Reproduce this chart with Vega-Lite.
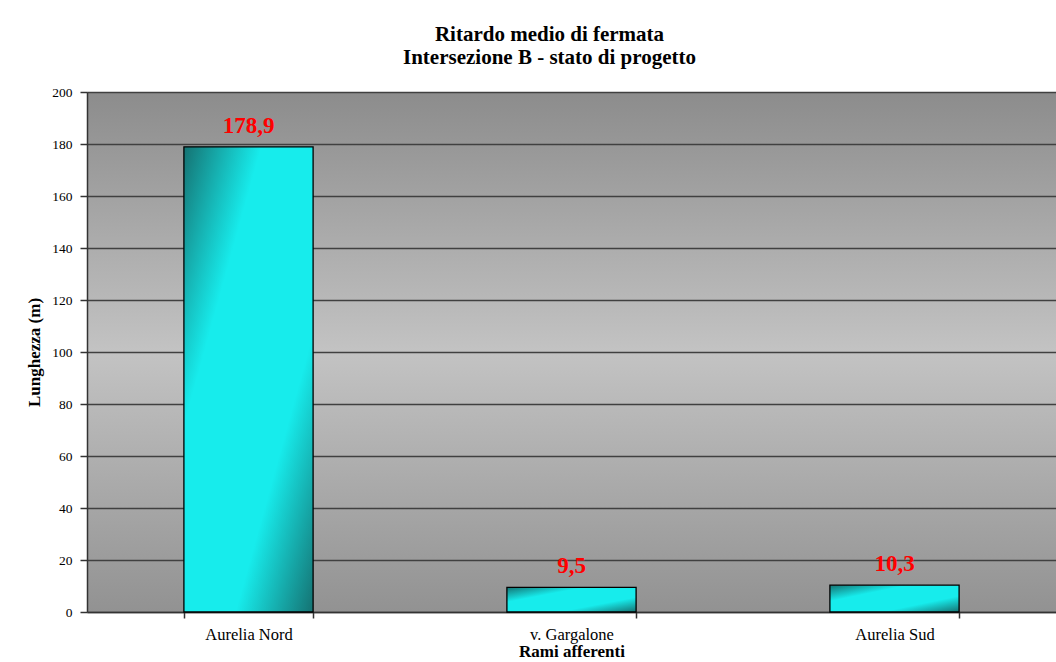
{
  "$schema": "https://vega.github.io/schema/vega-lite/v6.json",
  "autosize": "none",
  "width": 969,
  "height": 520,
  "padding": {"left": 87, "top": 92, "right": 0, "bottom": 50},
  "background": "white",
  "config": {
    "locale": {"number": {"decimal": ",", "thousands": ".", "grouping": [3], "currency": ["", " €"]}},
    "font": "Liberation Serif",
    "view": {
      "stroke": null,
      "fill": {"gradient": "linear", "x1": 0, "y1": 0, "x2": 0, "y2": 1,
        "stops": [{"offset": 0, "color": "#8c8c8c"}, {"offset": 0.5, "color": "#c3c3c3"}, {"offset": 1, "color": "#929292"}]}
    }
  },
  "title": {
    "text": ["Ritardo medio di fermata", "Intersezione B - stato di progetto"],
    "font": "Liberation Serif",
    "fontSize": 21,
    "fontWeight": "bold",
    "color": "#000000",
    "lineHeight": 23,
    "offset": 17,
    "dx": -22,
    "anchor": "middle"
  },
  "data": {
    "values": [
      {"ramo": "Aurelia Nord", "lunghezza": 178.9},
      {"ramo": "v. Gargalone", "lunghezza": 9.5},
      {"ramo": "Aurelia Sud", "lunghezza": 10.3}
    ]
  },
  "encoding": {
    "x": {
      "field": "ramo", "type": "nominal", "sort": null,
      "scale": {"paddingInner": 0.6, "paddingOuter": 0.3},
      "axis": {
        "title": "Rami afferenti", "labelAngle": 0, "tickBand": "extent",
        "labelFont": "Liberation Serif", "labelFontSize": 16.5, "labelColor": "#000",
        "titleFont": "Liberation Serif", "titleFontSize": 17, "titleFontWeight": "bold", "titleColor": "#000",
        "labelPadding": 8, "titlePadding": 1,
        "domainColor": "#333", "domainWidth": 1.5, "tickColor": "#333", "tickWidth": 1.5, "tickSize": 6,
        "grid": false
      }
    },
    "y": {
      "field": "lunghezza", "type": "quantitative",
      "scale": {"domain": [0, 200], "nice": false},
      "axis": {
        "title": "Lunghezza (m)", "values": [0, 20, 40, 60, 80, 100, 120, 140, 160, 180, 200],
        "labelFont": "Liberation Serif", "labelFontSize": 13.5, "labelColor": "#000",
        "titleFont": "Liberation Serif", "titleFontSize": 17, "titleFontWeight": "bold", "titleColor": "#000",
        "labelPadding": 8, "titlePadding": 8,
        "domainColor": "#333", "domainWidth": 1.5, "tickColor": "#333", "tickWidth": 1.5, "tickSize": 7,
        "grid": true, "gridColor": "#404040", "gridWidth": 1.3, "gridOpacity": 1
      }
    }
  },
  "layer": [
    {
      "mark": {
        "type": "bar",
        "stroke": "#000000",
        "strokeWidth": 1.3,
        "color": {"gradient": "linear", "x1": 0, "y1": 0, "x2": 1, "y2": 1,
          "stops": [{"offset": 0, "color": "#157272"}, {"offset": 0.3, "color": "#17ecec"}, {"offset": 0.7, "color": "#17ecec"}, {"offset": 1, "color": "#157272"}]}
      }
    },
    {
      "mark": {"type": "text", "color": "#ff0000", "font": "Liberation Serif", "fontSize": 23, "fontWeight": "bold", "baseline": "alphabetic", "dy": -14},
      "encoding": {"text": {"field": "lunghezza", "type": "quantitative", "format": ".1f"}}
    }
  ]
}
